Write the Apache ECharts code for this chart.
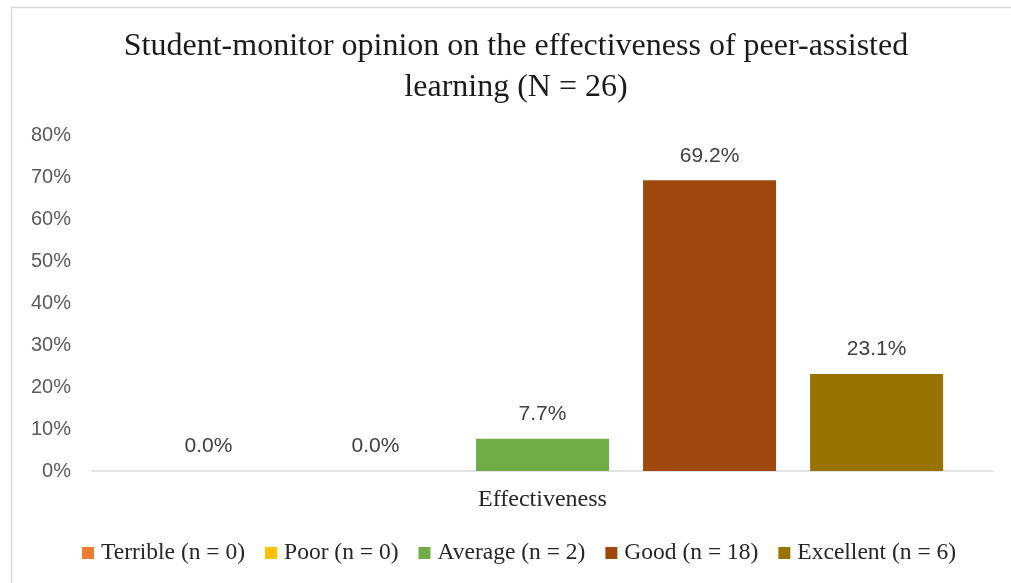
<!DOCTYPE html>
<html>
<head>
<meta charset="utf-8">
<script src="https://cdn.jsdelivr.net/npm/echarts@6/dist/echarts.min.js"></script>
<style>
html,body{margin:0;padding:0;background:#fff;}
#chart{width:1011px;height:583px;}
</style>
</head>
<body>
<div id="chart"></div>
<script>
const categories = ['Effectiveness'];
const seriesNames = ['Terrible (n = 0)', 'Poor (n = 0)', 'Average (n = 2)', 'Good (n = 18)', 'Excellent (n = 6)'];
const seriesValues = [[0.0], [0.0], [7.7], [69.2], [23.1]];
const seriesColors = ['#ED7D31', '#FFC000', '#70AD47', '#9E480E', '#997300'];
const yTicks = { min: 0, max: 80, interval: 10 };
const titleText = 'Student-monitor opinion on the effectiveness of peer-assisted\nlearning (N = 26)';

const serif = 'Liberation Serif';
const sans = 'Liberation Sans';

const chart = echarts.init(document.getElementById('chart'), null, { renderer: 'canvas' });
chart.setOption({
  animation: false,
  backgroundColor: '#fff',
  graphic: [{
    type: 'rect', silent: true, z: -1,
    shape: { x: 11.5, y: 7.5, width: 1100, height: 700 },
    style: { fill: 'none', stroke: '#d9d9d9', lineWidth: 1.5 }
  }],
  title: {
    text: titleText,
    left: 516, top: 26, padding: 0,
    textAlign: 'center',
    textStyle: { fontFamily: serif, fontSize: 32, fontWeight: 'normal', color: '#1a1a1a', lineHeight: 41 }
  },
  legend: {
    top: 541, left: 82, padding: 0,
    icon: 'rect', itemWidth: 12, itemHeight: 12, itemGap: 20,
    itemStyle: { borderWidth: 0 },
    textStyle: { fontFamily: serif, fontSize: 23.5, color: '#262626', padding: [0, 0, 0, 2] },
    data: seriesNames
  },
  grid: { left: 92, right: 18, top: 135, bottom: 112, containLabel: false },
  xAxis: {
    type: 'category', data: categories,
    axisLine: { lineStyle: { color: '#d9d9d9', width: 1.5 } },
    axisTick: { show: false },
    axisLabel: { fontFamily: serif, fontSize: 24, color: '#262626', margin: 17 }
  },
  yAxis: {
    type: 'value', min: yTicks.min, max: yTicks.max, interval: yTicks.interval,
    axisLine: { show: false }, axisTick: { show: false },
    splitLine: { show: false },
    axisLabel: { fontFamily: sans, fontSize: 20, color: '#595959', margin: 21, formatter: '{value}%' }
  },
  series: seriesNames.map((name, i) => ({
    name: name, type: 'bar', data: seriesValues[i],
    barWidth: 133, barGap: '25.6%',
    itemStyle: { color: seriesColors[i], borderWidth: 0 },
    label: {
      show: true, position: 'top', distance: 14,
      fontFamily: sans, fontSize: 21, color: '#404040',
      formatter: p => p.value.toFixed(1) + '%'
    }
  }))
});
</script>
</body>
</html>
